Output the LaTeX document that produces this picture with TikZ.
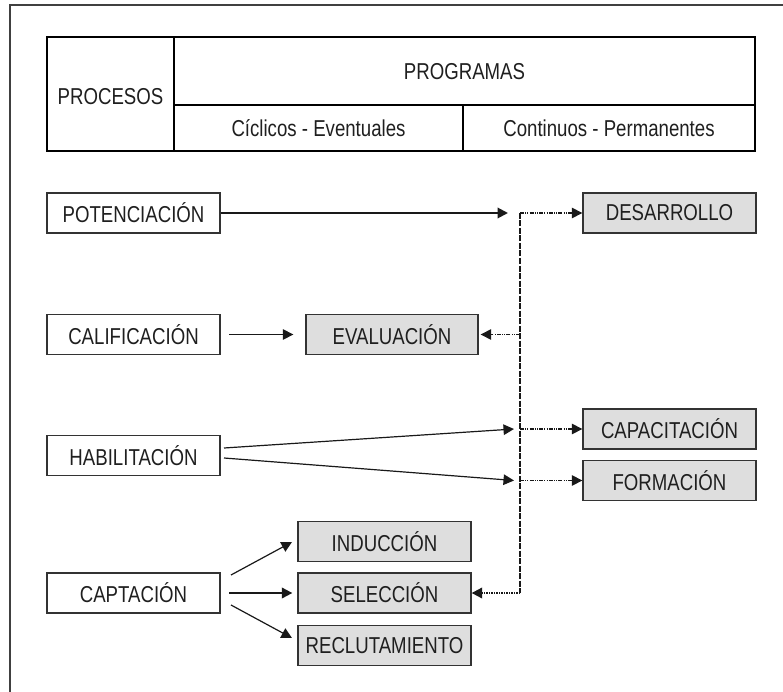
\documentclass[tikz,border=0pt]{standalone}
\usepackage{fontspec}
\setmainfont{Liberation Sans}[FakeStretch=0.81]
\usetikzlibrary{arrows.meta}
\begin{document}
\begin{tikzpicture}[x=1pt,y=-1pt,
  every node/.style={text=black!88},
  txt/.style={inner sep=0pt, font=\fontsize{23}{27}\selectfont},
  box/.style={draw=black!80, line width=1.3pt, minimum width=173pt, minimum height=40pt, inner sep=0pt, font=\fontsize{23}{27}\selectfont},
  gbox/.style={box, fill=black!13},
  tbl/.style={draw=black, line width=1.2pt},
  tip/.style={-{Triangle[length=10.5pt,width=10.5pt]}},
  thinarrow/.style={tip, line width=1.2pt, draw=black!90},
  thickarrow/.style={tip, line width=2pt, draw=black!90},
  dl/.style={tip, line width=1.1pt, draw=black!90, dash pattern=on 4pt off 1.2pt on 1pt off 1.2pt on 1pt off 1.2pt},
  vline/.style={line width=2pt, draw=black!90, dash pattern=on 6pt off 1.5pt},
  dotl/.style={tip, line width=2pt, draw=black!90, dash pattern=on 1.5pt off 1pt}
]
\useasboundingbox (0,0) rectangle (783,692);
% frame
\draw[line width=2pt, draw=black!75] (10,692) -- (10,5) -- (783,5);
% table
\draw[tbl] (47,37) rectangle (755,151);
\draw[tbl] (174,37) -- (174,151);
\draw[tbl] (174,105) -- (755,105);
\draw[tbl] (463,105) -- (463,151);
\node[txt] (tproc) at (110.5,97) {PROCESOS};
\node[txt] (tprog) at (464.5,72) {PROGRAMAS};
\node[txt] (tcic) at (318.5,128) {Cíclicos - Eventuales};
\node[txt] (tcon) at (609,128) {Continuos - Permanentes};
% process boxes
\node[box] (pot) at (133.5,213) {POTENCIACIÓN};
\node[box] (cal) at (133.5,334.5) {CALIFICACIÓN};
\node[box] (hab) at (133.5,455.5) {HABILITACIÓN};
\node[box] (capt) at (133.5,593) {CAPTACIÓN};
% program boxes
\node[gbox] (des) at (669.5,213) {DESARROLLO};
\node[gbox, minimum width=172pt] (eva) at (392,334.5) {EVALUACIÓN};
\node[gbox] (capa) at (669.5,429) {CAPACITACIÓN};
\node[gbox] (form) at (669.5,480.5) {FORMACIÓN};
\node[gbox] (ind) at (384.5,541.5) {INDUCCIÓN};
\node[gbox] (sel) at (384.5,593) {SELECCIÓN};
\node[gbox] (rec) at (384.5,645.5) {RECLUTAMIENTO};
% coordinates
\coordinate (p1) at (508,213);
\coordinate (vt) at (520,213);
\coordinate (ve) at (520,334.5);
\coordinate (vc1) at (520,429);
\coordinate (vc2) at (520,480.5);
\coordinate (vb) at (520,593);
\coordinate (c0) at (229,334.5);
\coordinate (h1) at (224,448);
\coordinate (h2) at (224,458);
\coordinate (a1) at (514,429);
\coordinate (a2) at (514,480.5);
\coordinate (k1) at (231,575);
\coordinate (k1e) at (292,542);
\coordinate (k2) at (229,593);
\coordinate (k3) at (231,605);
\coordinate (k3e) at (292,638);
% connectors
\draw[thickarrow] (pot.east) -- (p1);
\draw[vline] (vt) -- (vb);
\draw[dl] (vt) -- (des.west);
\draw[thinarrow] (c0) -- ([xshift=-12pt]eva.west);
\draw[dl] (ve) -- ([xshift=2pt]eva.east);
\draw[thinarrow] (h1) -- (a1);
\draw[thinarrow] (h2) -- (a2);
\draw[dl] (vc1) -- (capa.west);
\draw[dl] (vc2) -- (form.west);
\draw[thinarrow] (k1) -- (k1e);
\draw[thickarrow] (k2) -- ([xshift=-5pt]sel.west);
\draw[thinarrow] (k3) -- (k3e);
\draw[dotl] (vb) -- (sel.east);
\end{tikzpicture}
\end{document}
